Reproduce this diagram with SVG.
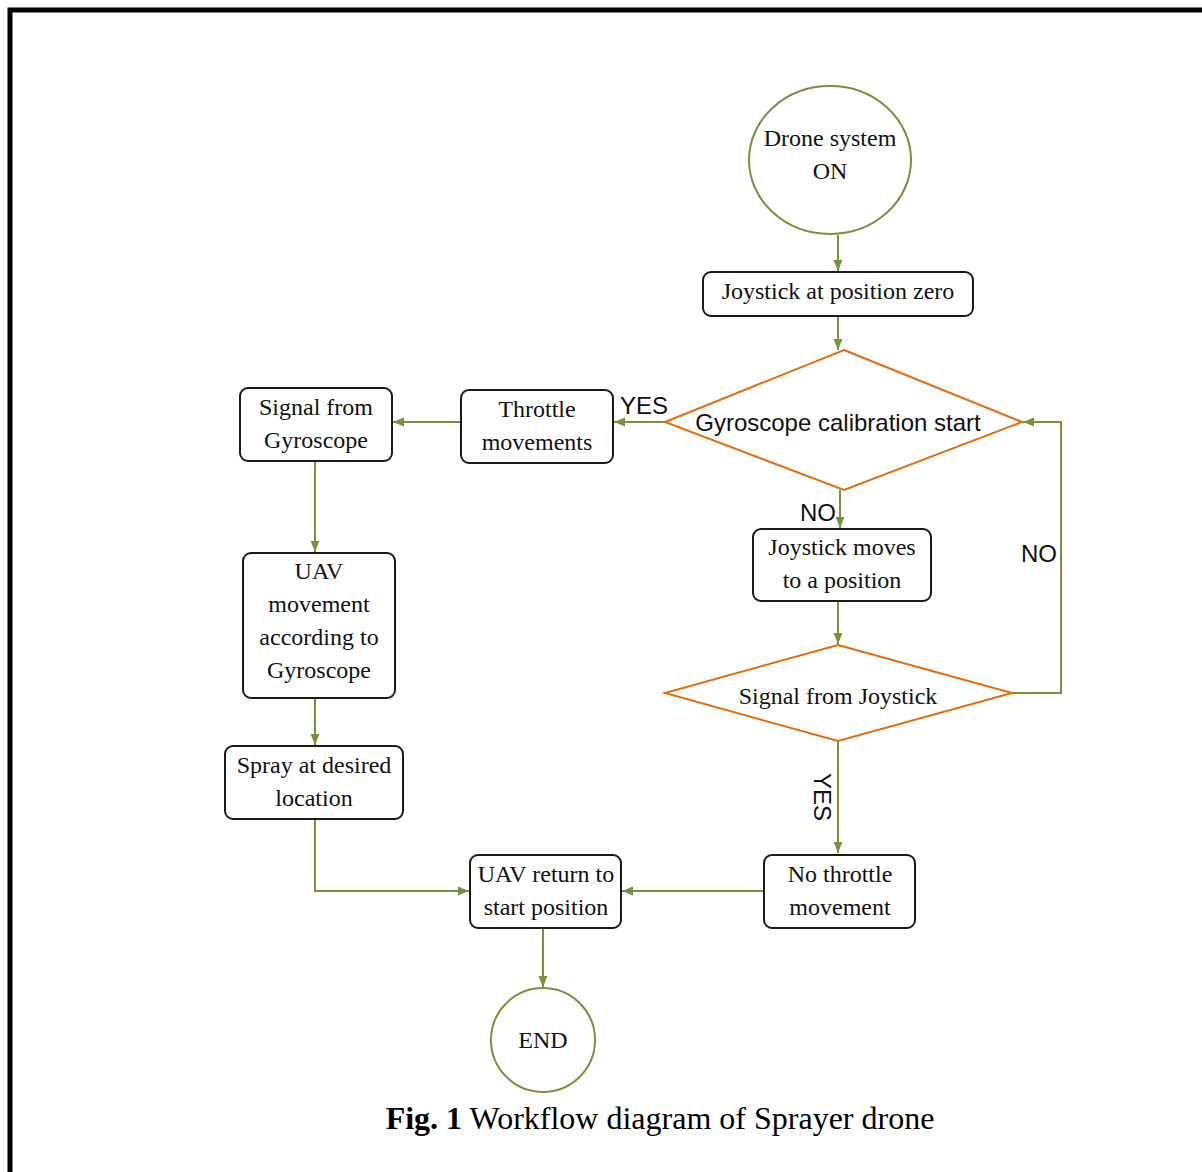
<svg xmlns="http://www.w3.org/2000/svg" width="1202" height="1172" viewBox="0 0 1202 1172">
<style>
.box{fill:#fff;stroke:#1a1a1a;stroke-width:2}
.circ{fill:#fff;stroke:#76923c;stroke-width:2}
.dia{fill:#fff;stroke:#e46c0a;stroke-width:2}
.con{fill:none;stroke:#76923c;stroke-width:2}
.t{font-family:"Liberation Serif","Times New Roman",serif;font-size:24px;fill:#111;text-anchor:middle}
.s{font-family:"Liberation Sans",Arial,sans-serif;font-size:24px;fill:#111;text-anchor:middle}
</style>
<defs>
<marker id="ah" viewBox="0 0 10 10" refX="10" refY="5" markerWidth="11" markerHeight="11" markerUnits="userSpaceOnUse" orient="auto">
<path d="M0,1 L10,5 L0,9 Z" fill="#76923c"/>
</marker>
</defs>
<rect x="0" y="0" width="1202" height="1172" fill="#fff"/>
<path d="M10,1180 L10,10 L1210,10" fill="none" stroke="#000" stroke-width="5"/>

<g id="connectors">
<line class="con" x1="838" y1="235" x2="838" y2="271" marker-end="url(#ah)"/>
<line class="con" x1="838" y1="316" x2="838" y2="350" marker-end="url(#ah)"/>
<line class="con" x1="665" y1="422" x2="614" y2="422" marker-end="url(#ah)"/>
<line class="con" x1="461" y1="422" x2="393" y2="422" marker-end="url(#ah)"/>
<line class="con" x1="315" y1="461" x2="315" y2="552" marker-end="url(#ah)"/>
<line class="con" x1="315" y1="698" x2="315" y2="745" marker-end="url(#ah)"/>
<polyline class="con" points="315,819 315,891 469,891" marker-end="url(#ah)"/>
<line class="con" x1="764" y1="891" x2="622" y2="891" marker-end="url(#ah)"/>
<line class="con" x1="543" y1="928" x2="543" y2="987" marker-end="url(#ah)"/>
<line class="con" x1="840" y1="490" x2="840" y2="528" marker-end="url(#ah)"/>
<line class="con" x1="838" y1="601" x2="838" y2="644" marker-end="url(#ah)"/>
<polyline class="con" points="1012,693 1061,693 1061,422 1023,422" marker-end="url(#ah)"/>
<line class="con" x1="838" y1="741" x2="838" y2="853" marker-end="url(#ah)"/>
<text class="s" x="644" y="414">YES</text>
<text class="s" x="818" y="521">NO</text>
<text class="s" x="1039" y="562">NO</text>
<text class="s" transform="translate(814,797) rotate(90)">YES</text>
</g>

<g id="start">
<ellipse class="circ" cx="830" cy="160" rx="81" ry="74"/>
<text class="t" x="830" y="146">Drone system</text>
<text class="t" x="830" y="179">ON</text>
</g>
<g id="joy-zero">
<rect class="box" x="703" y="272" width="270" height="44" rx="8"/>
<text class="t" x="838" y="299">Joystick at position zero</text>
</g>
<g id="gyro-cal">
<polygon class="dia" points="844,350 1022,422 844,490 665,422"/>
<text class="s" x="838" y="431">Gyroscope calibration start</text>
</g>
<g id="throttle">
<rect class="box" x="461" y="390" width="152" height="73" rx="8"/>
<text class="t" x="537" y="417">Throttle</text>
<text class="t" x="537" y="450">movements</text>
</g>
<g id="sig-gyro">
<rect class="box" x="240" y="388" width="152" height="73" rx="8"/>
<text class="t" x="316" y="415">Signal from</text>
<text class="t" x="316" y="448">Gyroscope</text>
</g>
<g id="uav-move">
<rect class="box" x="243" y="553" width="152" height="145" rx="8"/>
<text class="t" x="319" y="579">UAV</text>
<text class="t" x="319" y="612">movement</text>
<text class="t" x="319" y="645">according to</text>
<text class="t" x="319" y="678">Gyroscope</text>
</g>
<g id="spray">
<rect class="box" x="225" y="746" width="178" height="73" rx="8"/>
<text class="t" x="314" y="773">Spray at desired</text>
<text class="t" x="314" y="806">location</text>
</g>
<g id="return">
<rect class="box" x="470" y="855" width="151" height="73" rx="8"/>
<text class="t" x="546" y="882">UAV return to</text>
<text class="t" x="546" y="915">start position</text>
</g>
<g id="no-throttle">
<rect class="box" x="764" y="855" width="151" height="73" rx="8"/>
<text class="t" x="840" y="882">No throttle</text>
<text class="t" x="840" y="915">movement</text>
</g>
<g id="end">
<circle class="circ" cx="543" cy="1040" r="52"/>
<text class="t" x="543" y="1048">END</text>
</g>
<g id="joy-moves">
<rect class="box" x="753" y="529" width="178" height="72" rx="8"/>
<text class="t" x="842" y="555">Joystick moves</text>
<text class="t" x="842" y="588">to a position</text>
</g>
<g id="sig-joy">
<polygon class="dia" points="838,645 1012,693 838,741 665,693"/>
<text class="t" x="838" y="704">Signal from Joystick</text>
</g>
<text x="660" y="1129" style="font-family:'Liberation Serif','Times New Roman',serif;font-size:32px;fill:#000;text-anchor:middle"><tspan font-weight="bold">Fig. 1</tspan> Workflow diagram of Sprayer drone</text>
</svg>
